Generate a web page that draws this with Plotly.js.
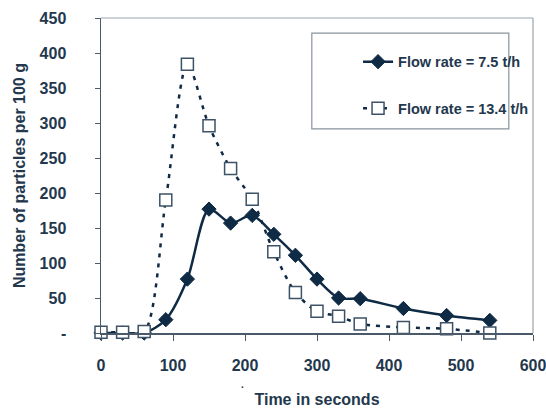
<!DOCTYPE html>
<html><head><meta charset="utf-8">
<script src="https://cdn.plot.ly/plotly-3.0.1.min.js"></script>
<style>body{margin:0;padding:0;background:#fff}</style>
</head><body><div id="chart" style="width:546px;height:412px"></div>
<script>
// Data
const timeSeconds = [0, 30, 60, 90, 120, 150, 180, 210, 240, 270, 300, 330, 360, 420, 480, 540];
const flow75 = [0, 0, 0, 19, 77, 177, 157, 168, 141, 111, 77, 50, 49, 35, 25, 18];
const flow134 = [1, 1, 2, 190, 384, 296, 235, 191, 116, 58, 31, 24, 13, 8, 6, 0];
const seriesNames = ['Flow rate = 7.5 t/h', 'Flow rate = 13.4 t/h'];
const yTickVals = [0, 50, 100, 150, 200, 250, 300, 350, 400, 450];
const yTickText = ['-', '50', '100', '150', '200', '250', '300', '350', '400', '450'];
const xTickVals = [0, 100, 200, 300, 400, 500, 600];

const navy = '#0f2a44';
const txt = '#23384d';
const fontFam = '"Liberation Sans", Arial, sans-serif';

const traces = [
  {
    x: timeSeconds, y: flow75, name: seriesNames[0], type: 'scatter', mode: 'lines+markers',
    line: {color: navy, width: 2.5, shape: 'spline', smoothing: 0.8},
    marker: {symbol: 'diamond', size: 11, color: navy, line: {color: navy, width: 1}},
    legend: 'legend', cliponaxis: false
  },
  {
    x: timeSeconds, y: flow134, name: seriesNames[1], type: 'scatter', mode: 'lines+markers',
    line: {color: navy, width: 2.5, dash: '4px,6px', shape: 'spline', smoothing: 0.8},
    marker: {symbol: 'square', size: 12, color: '#ffffff', line: {color: '#3d5266', width: 1.5}},
    legend: 'legend2', cliponaxis: false
  }
];

const layout = {
  width: 546, height: 412,
  margin: {l: 101, r: 13, t: 18, b: 79, pad: 0},
  paper_bgcolor: '#fff', plot_bgcolor: '#fff',
  font: {family: fontFam, color: txt, size: 15, weight: 700},
  showlegend: true,
  xaxis: {
    range: [0, 600], tickvals: xTickVals, showgrid: false, zeroline: false,
    showline: true, linecolor: '#4a5a6a', linewidth: 1.5,
    ticks: 'outside', ticklen: 6, tickcolor: '#4a5a6a', tickwidth: 1,
    ticklabelstandoff: 11, ticklabeloverflow: 'allow',
    tickfont: {family: fontFam, size: 16, color: txt, weight: 700},
    title: {text: 'Time in seconds', standoff: 21, font: {family: fontFam, size: 16, color: txt, weight: 700}}
  },
  yaxis: {
    range: [0, 450], tickvals: yTickVals, ticktext: yTickText, showgrid: false, zeroline: false,
    showline: true, linecolor: '#4a5a6a', linewidth: 1.5,
    ticks: 'outside', ticklen: 5, tickcolor: '#4a5a6a', tickwidth: 1,
    ticklabelstandoff: 25,
    tickfont: {family: fontFam, size: 16, color: txt, weight: 700},
    title: {text: 'Number of particles per 100 g', standoff: 10, font: {family: fontFam, size: 16, color: txt, weight: 700}}
  },
  legend: {
    x: 0.595, y: 0.912, xanchor: 'left', yanchor: 'top', bgcolor: 'rgba(0,0,0,0)', borderwidth: 0,
    font: {family: fontFam, size: 14.5, color: txt, weight: 700}
  },
  legend2: {
    x: 0.595, y: 0.764, xanchor: 'left', yanchor: 'top', bgcolor: 'rgba(0,0,0,0)', borderwidth: 0,
    font: {family: fontFam, size: 14.5, color: txt, weight: 700}
  },
  annotations: [
    {xref: 'paper', yref: 'paper', x: (242 - 101) / 432, y: -(392 - 333) / 315, text: '.', showarrow: false,
     font: {family: fontFam, size: 10, color: txt}, xanchor: 'center', yanchor: 'bottom'}
  ],
  shapes: [
    {type: 'line', xref: 'paper', yref: 'paper', x0: 0, x1: 1, y0: 1, y1: 1, line: {color: '#9aa3ab', width: 1.2}, layer: 'below'},
    {type: 'line', xref: 'paper', yref: 'paper', x0: 1, x1: 1, y0: 0, y1: 1, line: {color: '#9aa3ab', width: 1.2}, layer: 'below'},
    {type: 'rect', xref: 'paper', yref: 'paper', x0: 0.488, x1: 0.944, y0: 0.648, y1: 0.952, line: {color: '#8a939c', width: 1.2}, fillcolor: 'rgba(0,0,0,0)', layer: 'below'}
  ]
};

Plotly.newPlot('chart', traces, layout, {displayModeBar: false, staticPlot: true});
</script></body></html>
